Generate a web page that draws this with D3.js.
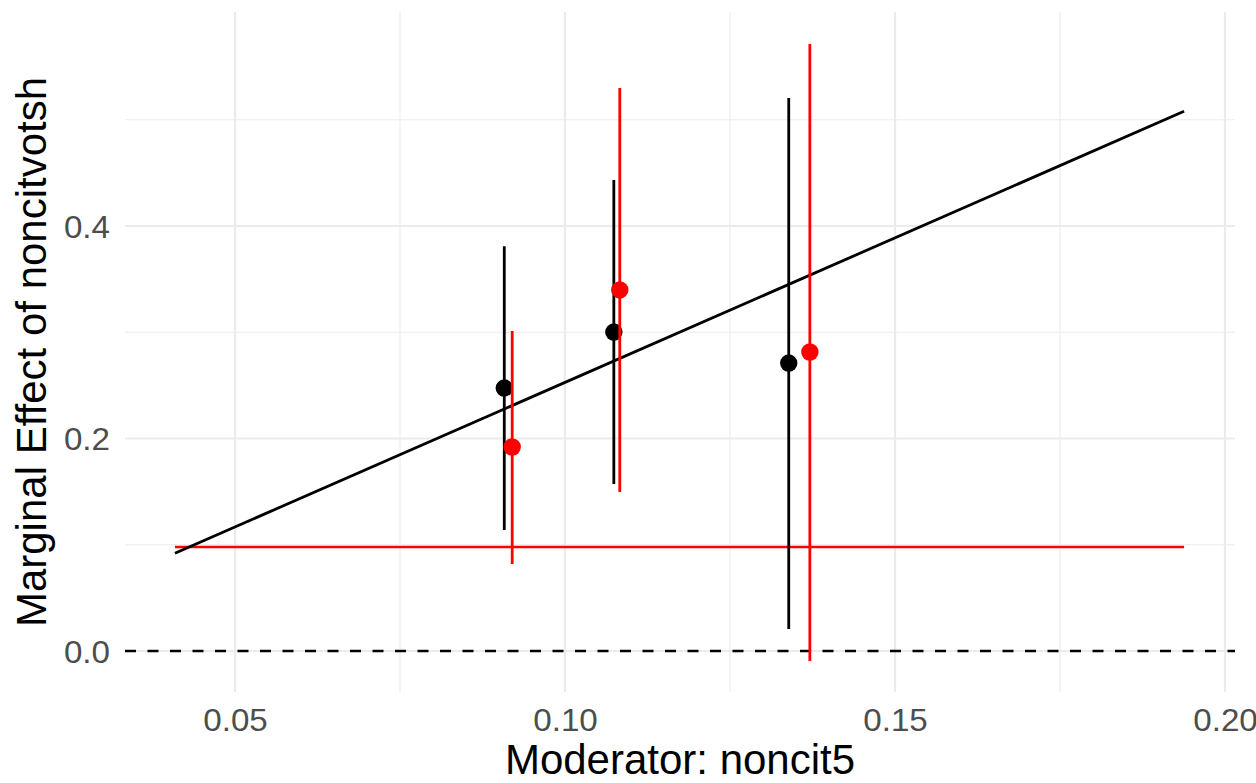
<!DOCTYPE html>
<html>
<head>
<meta charset="utf-8">
<script src="https://cdn.jsdelivr.net/npm/d3@7"></script>
<style>
  body { margin: 0; background: #fff; }
  text { font-family: "Liberation Sans", Arial, Helvetica, sans-serif; }
</style>
</head>
<body>
<div id="chart"></div>
<script>
// binned estimates (black) and kernel estimates (red)
var binX = [0.0908, 0.1074, 0.1339];
var binEst = [0.2475, 0.3002, 0.2710];
var binLow = [0.1139, 0.1572, 0.0207];
var binHigh = [0.3810, 0.4433, 0.5205];

var kernX = [0.0920, 0.1083, 0.1371];
var kernEst = [0.1920, 0.3398, 0.2814];
var kernLow = [0.0819, 0.1496, -0.0094];
var kernHigh = [0.3012, 0.5299, 0.5713];

// linear marginal effect line and flat red line
var lineX = [0.0409, 0.1938];
var lineY = [0.0920, 0.5080];
var flatY = [0.0979, 0.0979];

var xTicks = [0.05, 0.10, 0.15, 0.20];
var xMinor = [0.075, 0.125, 0.175];
var yTicks = [0.0, 0.2, 0.4];
var yMinor = [0.1, 0.3, 0.5];

var width = 1256, height = 783;
var pLeft = 125, pRight = 1235, pTop = 12, pBottom = 692;

var svg = d3.select("#chart").append("svg")
  .attr("width", width)
  .attr("height", height);

var xScale = d3.scaleLinear()
  .domain([0.05 - 110 / 6600, 0.20 + 10 / 6600])
  .range([pLeft, pRight]);
var yScale = d3.scaleLinear()
  .domain([(651 - pBottom) / 1062.5, (651 - pTop) / 1062.5])
  .range([pBottom, pTop]);

// grid
var grid = svg.append("g");
grid.selectAll(".vmin").data(xMinor).enter().append("line")
  .attr("x1", d => xScale(d)).attr("x2", d => xScale(d))
  .attr("y1", pTop).attr("y2", pBottom)
  .attr("stroke", "#ebebeb").attr("stroke-width", 1.1);
grid.selectAll(".hmin").data(yMinor).enter().append("line")
  .attr("y1", d => yScale(d)).attr("y2", d => yScale(d))
  .attr("x1", pLeft).attr("x2", pRight)
  .attr("stroke", "#ebebeb").attr("stroke-width", 1.1);
grid.selectAll(".vmaj").data(xTicks).enter().append("line")
  .attr("x1", d => xScale(d)).attr("x2", d => xScale(d))
  .attr("y1", pTop).attr("y2", pBottom)
  .attr("stroke", "#ebebeb").attr("stroke-width", 2.2);
grid.selectAll(".hmaj").data(yTicks).enter().append("line")
  .attr("y1", d => yScale(d)).attr("y2", d => yScale(d))
  .attr("x1", pLeft).attr("x2", pRight)
  .attr("stroke", "#ebebeb").attr("stroke-width", 2.2);

// axes (labels only)
var xAxis = d3.axisBottom(xScale).tickValues(xTicks).tickFormat(d3.format(".2f")).tickSize(0).tickPadding(0);
var yAxis = d3.axisLeft(yScale).tickValues(yTicks).tickFormat(d3.format(".1f")).tickSize(0).tickPadding(0);

var xAxisG = svg.append("g").attr("transform", "translate(0," + pBottom + ")").call(xAxis);
var yAxisG = svg.append("g").attr("transform", "translate(110,0)").call(yAxis);
[xAxisG, yAxisG].forEach(function (g) {
  g.select(".domain").remove();
  g.attr("font-size", 31).attr("font-family", "Liberation Sans, Arial, sans-serif");
  g.selectAll("text").attr("fill", "#4d4d4d");
});
xAxisG.selectAll("text").attr("y", 0).attr("dy", 0)
  .attr("transform", "translate(0,39) scale(1.07,1)");
yAxisG.selectAll("text").attr("x", 0).attr("dy", "0.36em")
  .attr("transform", "scale(1.07,1)");

// zero reference line
svg.append("line")
  .attr("x1", pLeft).attr("x2", pRight)
  .attr("y1", yScale(0)).attr("y2", yScale(0))
  .attr("stroke", "#000").attr("stroke-width", 2.6)
  .attr("stroke-dasharray", "11,11.5");

// lines
var line = d3.line().x(d => xScale(d[0])).y(d => yScale(d[1]));
svg.append("path").datum(d3.zip(lineX, flatY))
  .attr("d", line).attr("fill", "none").attr("stroke", "#ff0000").attr("stroke-width", 2.6);
svg.append("path").datum(d3.zip(lineX, lineY))
  .attr("d", line).attr("fill", "none").attr("stroke", "#000").attr("stroke-width", 2.8);

// error bars and points
function drawSeries(xs, est, lo, hi, color) {
  var g = svg.append("g");
  var rows = xs.map((x, i) => ({ x: x, est: est[i], lo: lo[i], hi: hi[i] }));
  g.selectAll("line").data(rows).enter().append("line")
    .attr("x1", d => xScale(d.x)).attr("x2", d => xScale(d.x))
    .attr("y1", d => yScale(d.lo)).attr("y2", d => yScale(d.hi))
    .attr("stroke", color).attr("stroke-width", 2.8);
  g.selectAll("circle").data(rows).enter().append("circle")
    .attr("cx", d => xScale(d.x)).attr("cy", d => yScale(d.est))
    .attr("r", 8.7).attr("fill", color);
}
drawSeries(binX, binEst, binLow, binHigh, "#000");
drawSeries(kernX, kernEst, kernLow, kernHigh, "#ff0000");

// axis titles
svg.append("text")
  .attr("x", (pLeft + pRight) / 2)
  .attr("y", 774)
  .attr("text-anchor", "middle")
  .attr("font-size", 42)
  .attr("fill", "#000")
  .text("Moderator: noncit5");

svg.append("text")
  .attr("transform", "translate(46," + ((pTop + pBottom) / 2) + ") rotate(-90)")
  .attr("text-anchor", "middle")
  .attr("font-size", 42)
  .attr("fill", "#000")
  .text("Marginal Effect of noncitvotsh");
</script>
</body>
</html>
